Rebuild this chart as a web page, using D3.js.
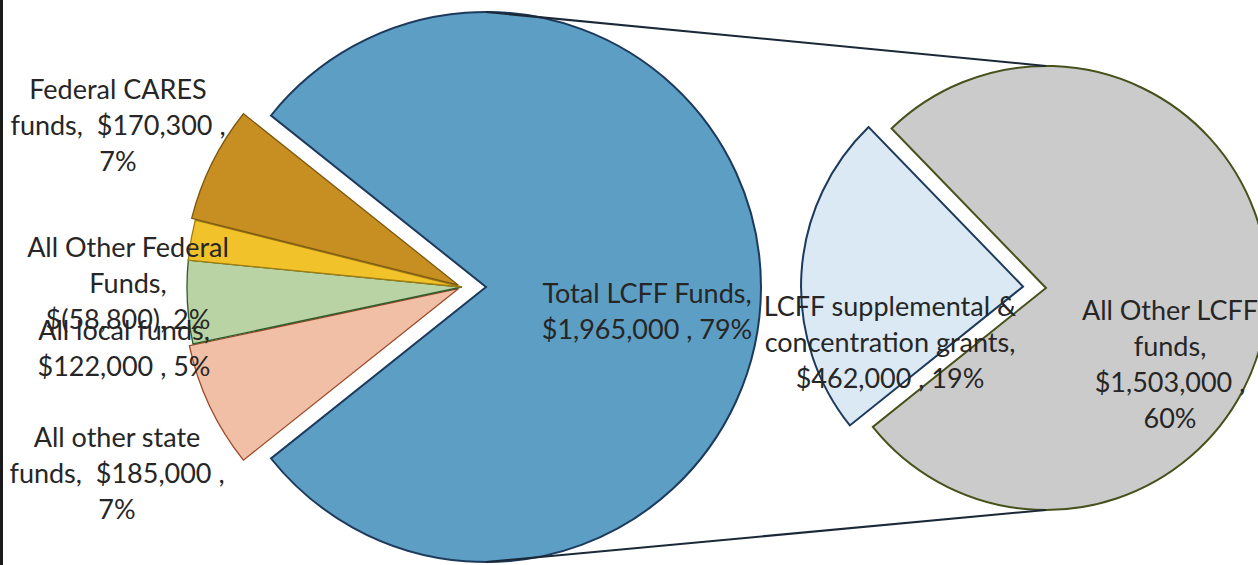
<!DOCTYPE html>
<html>
<head>
<meta charset="utf-8">
<script src="https://cdn.jsdelivr.net/npm/d3@7"></script>
<style>
  html, body { margin: 0; padding: 0; background: #fff; }
  svg { display: block; font-family: Lato, "Open Sans", sans-serif; }
</style>
</head>
<body>
<div id="chart"></div>
<script>
// ---------------------------------------------------------------------------
// Data — read off the reference pie-of-pie
// ---------------------------------------------------------------------------

const mainCategories = [
  "Federal CARES funds",
  "All Other Federal Funds",
  "All local funds",
  "All other state funds",
  "Total LCFF Funds",
];
const mainValues   = [170300, -58800, 122000, 185000, 1965000];
const mainPercents = [7, 2, 5, 7, 79];

const detailCategories = [
  "LCFF supplemental & concentration grants",
  "All Other LCFF funds",
];
const detailValues   = [462000, 1503000];
const detailPercents = [19, 60];

// ---------------------------------------------------------------------------
// Layout / style
// ---------------------------------------------------------------------------

const W = 1258, H = 565;
const FONT_SIZE = 27, LINE_H = 36;

const mainFill   = ["#c78f22", "#f1c22a", "#b9d3a4", "#f0bfa5", "#5c9ec4"];
const mainStroke = ["#7d5810", "#a07e10", "#2f5a2a", "#9a4a2a", "#1d3a5c"];
const mainExplode = [4, 0, 0, 4, 24];
// anchor (centre x, first baseline y) and wrap width for every data label
const mainLabels = [
  { x: 118, y: 99,  w: 222 },
  { x: 128, y: 257, w: 203 },
  { x: 124, y: 340, w: 190 },
  { x: 117, y: 447, w: 222 },
  { x: 647, y: 303, w: 215 },
];

const detailFill   = ["#dbe9f5", "#cbcbcb"];
const detailStroke = ["#1d3a5c", "#46521c"];
const detailExplode = [23, 0];
const detailLabels = [
  { x: 890,  y: 316, w: 260 },
  { x: 1170, y: 320, w: 185 },
];

const mainPie   = { cx: 462,  cy: 287, r: 275 };
const detailPie = { cx: 1046, cy: 288, r: 222 };

// ---------------------------------------------------------------------------
// Helpers
// ---------------------------------------------------------------------------

const fmt = d3.format(",");
// Excel accounting style: " $170,300 " / "$(58,800)"
function money(v) {
  return v >= 0 ? ` $${fmt(v)} ` : `$(${fmt(-v)})`;
}

function labelText(name, value, pct) {
  return `${name}, ${money(value)}, ${pct}%`;
}

function explodeOffset(d, e) {
  const mid = (d.startAngle + d.endAngle) / 2;
  return [e * Math.sin(mid), -e * Math.cos(mid)];
}

// greedy word wrap that keeps Excel's double spaces
function wrapLabel(g, text, pos) {
  const t = g.append("text")
    .attr("text-anchor", "middle")
    .attr("font-size", FONT_SIZE)
    .attr("fill", "#262626")
    .style("white-space", "pre");
  const tokens = text.split(/(\s+)/).filter(s => s.length);
  const lines = [];
  let line = "";
  const probe = t.append("tspan");
  tokens.forEach(tok => {
    if (line === "" && /^\s+$/.test(tok)) return;
    const trial = line + tok;
    probe.text(trial.trimEnd());
    if (line !== "" && probe.node().getComputedTextLength() > pos.w && !/^\s+$/.test(tok)) {
      lines.push(line.trimEnd());
      line = tok;
    } else {
      line = trial;
    }
  });
  if (line.trim()) lines.push(line.trimEnd());
  probe.remove();
  lines.forEach((l, i) => {
    t.append("tspan")
      .attr("x", pos.x)
      .attr("y", pos.y + i * LINE_H)
      .text(l);
  });
}

// ---------------------------------------------------------------------------
// Chart
// ---------------------------------------------------------------------------

const svg = d3.select("#chart").append("svg")
  .attr("width", W)
  .attr("height", H);

// primary pie: small slices sit on the left, stacked top -> bottom
const mainRows = mainCategories.map((c, i) => ({
  name: c, value: mainValues[i], pct: mainPercents[i],
  fill: mainFill[i], stroke: mainStroke[i], explode: mainExplode[i], label: mainLabels[i],
}));
const mainOrder = [3, 2, 1, 0, 4].map(i => mainRows[i]);   // clockwise from lower-left
const mainTotal = d3.sum(mainRows, d => Math.abs(d.value));
const otherFrac = d3.sum(mainRows.slice(0, 4), d => Math.abs(d.value)) / mainTotal;
const a0 = 1.5 * Math.PI - otherFrac * Math.PI;

const mainArcs = d3.pie()
  .sort(null)
  .value(d => Math.abs(d.value))
  .startAngle(a0)
  .endAngle(a0 + 2 * Math.PI)(mainOrder);

const arcMain = d3.arc().innerRadius(0).outerRadius(mainPie.r);

svg.append("g")
  .attr("transform", `translate(${mainPie.cx},${mainPie.cy})`)
  .selectAll("path")
  .data(mainArcs)
  .join("path")
  .attr("transform", d => `translate(${explodeOffset(d, d.data.explode)})`)
  .attr("d", arcMain)
  .attr("fill", d => d.data.fill)
  .attr("stroke", d => d.data.stroke)
  .attr("stroke-width", d => d.data.name === "Total LCFF Funds" ? 2 : 1.3)
  .attr("stroke-linejoin", "miter");

// secondary pie: breakdown of Total LCFF Funds
const detailRows = detailCategories.map((c, i) => ({
  name: c, value: detailValues[i], pct: detailPercents[i],
  fill: detailFill[i], stroke: detailStroke[i], explode: detailExplode[i], label: detailLabels[i],
}));
const detailTotal = d3.sum(detailRows, d => d.value);
const firstSpan = detailRows[0].value / detailTotal * 2 * Math.PI;
const b0 = (273.6 / 180) * Math.PI - firstSpan / 2;   // slightly above 9 o'clock

const detailArcs = d3.pie()
  .sort(null)
  .value(d => d.value)
  .startAngle(b0)
  .endAngle(b0 + 2 * Math.PI)(detailRows);

const arcDetail = d3.arc().innerRadius(0).outerRadius(detailPie.r);

svg.append("g")
  .attr("transform", `translate(${detailPie.cx},${detailPie.cy})`)
  .selectAll("path")
  .data(detailArcs)
  .join("path")
  .attr("transform", d => `translate(${explodeOffset(d, d.data.explode)})`)
  .attr("d", arcDetail)
  .attr("fill", d => d.data.fill)
  .attr("stroke", d => d.data.stroke)
  .attr("stroke-width", 2)
  .attr("stroke-linejoin", "miter");

// connector lines from top / bottom of the LCFF slice to the secondary pie
const lcff = mainArcs.find(d => d.data.name === "Total LCFF Funds");
const lx = mainPie.cx + explodeOffset(lcff, lcff.data.explode)[0];
const connectors = [
  [[lx, mainPie.cy - mainPie.r], [detailPie.cx, detailPie.cy - detailPie.r]],
  [[lx, mainPie.cy + mainPie.r], [detailPie.cx, detailPie.cy + detailPie.r]],
];
svg.append("g")
  .selectAll("line")
  .data(connectors)
  .join("line")
  .attr("x1", d => d[0][0]).attr("y1", d => d[0][1])
  .attr("x2", d => d[1][0]).attr("y2", d => d[1][1])
  .attr("stroke", "#1b2838")
  .attr("stroke-width", 2);

// data labels
const labels = svg.append("g");
mainRows.forEach(d => wrapLabel(labels, labelText(d.name, d.value, d.pct), d.label));
detailRows.forEach(d => wrapLabel(labels, labelText(d.name, d.value, d.pct), d.label));

// frame edge on the left
svg.append("line")
  .attr("x1", 1.5).attr("x2", 1.5)
  .attr("y1", 0).attr("y2", H)
  .attr("stroke", "#1a1a1a")
  .attr("stroke-width", 3);
</script>
</body>
</html>
